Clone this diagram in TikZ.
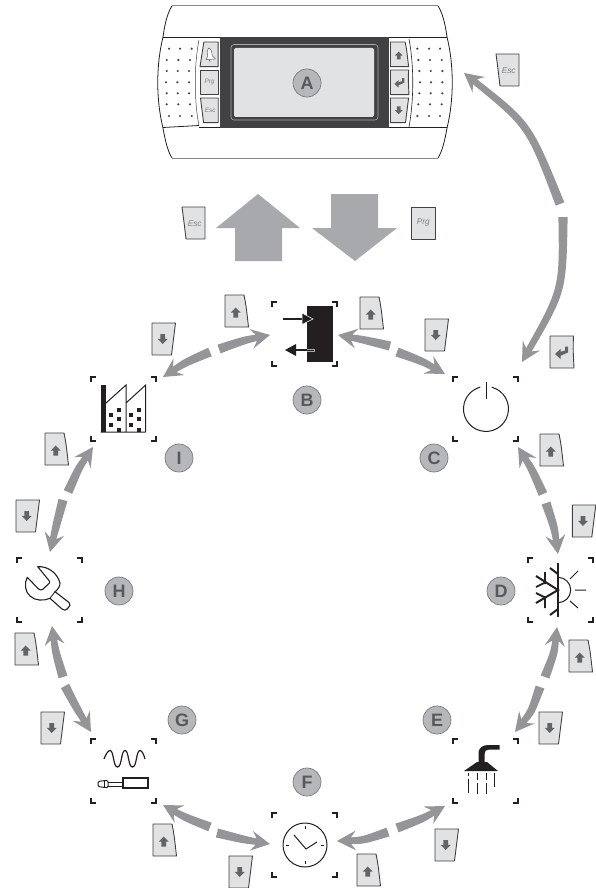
\documentclass[tikz,border=0pt]{standalone}
\usepackage{fontspec}
\setmainfont{Liberation Sans}
\usetikzlibrary{calc}
\definecolor{arrowgray}{HTML}{939598}
\definecolor{biggray}{HTML}{A7A9AC}
\definecolor{keyfill}{HTML}{E1E2E3}
\definecolor{keyline}{HTML}{414042}
\definecolor{glyph}{HTML}{636466}
\definecolor{keytext}{HTML}{808285}
\definecolor{labelfill}{HTML}{B5B7BA}
\definecolor{labeltext}{HTML}{58595B}
\definecolor{ink}{HTML}{231F20}
\tikzset{
  keyshape/.style={draw=keyline,fill=keyfill,line width=.9pt,line join=round},
  keyglyph/.style={fill=glyph,draw=none},
  keylabel/.style={text=keytext,inner sep=0pt,font=\fontsize{8.3}{9}\selectfont\itshape,transform shape},
  letter/.style={circle,draw=labeltext!80,fill=labelfill,line width=.7pt,minimum size=28pt,inner sep=0pt,text=labeltext,font=\fontsize{18}{18}\selectfont\bfseries},
  thinicon/.style={draw=ink,line width=1pt},
  corner/.style={draw=ink,line width=1.2pt},
  keyup/.pic={
    \draw[keyshape] (0,0) -- (19,0) .. controls (21,10) .. (23.5,32) -- (0,32) -- cycle;
    \fill[keyglyph] (10.7,12.5) -- (15.7,17.7) -- (13,17.7) -- (13,22.5) -- (8.4,22.5) -- (8.4,17.7) -- (5.7,17.7) -- cycle;
  },
  keydown/.pic={
    \draw[keyshape] (0,0) -- (23.5,0) .. controls (22,12) .. (19.5,32) -- (0,32) -- cycle;
    \fill[keyglyph] (10.7,21) -- (15.7,15.8) -- (13,15.8) -- (13,11) -- (8.4,11) -- (8.4,15.8) -- (5.7,15.8) -- cycle;
  },
  keyenter/.pic={
    \draw[keyshape] (0,0) -- (23.5,0) .. controls (23,12) .. (24,32) -- (0,32) -- cycle;
    \fill[keyglyph] (5,18) -- (10.5,13) -- (10.5,15.8) -- (15,14.5) -- (15,10.5) -- (18,10.5) -- (18,16.5) -- (10.5,19.8) -- (10.5,23) -- cycle;
  },
  keyesc/.pic={
    \draw[keyshape] (0,0) -- (23,0) -- (23,32) -- (4,32) .. controls (2,15) .. cycle;
    \node[keylabel] (-t) at (12.7,16.5) {Esc};
  },
  keyprg/.pic={
    \draw[keyshape] (0,0) -- (24,0) -- (24,32) -- (0,32) -- cycle;
    \node[keylabel] (-t) at (12.3,15.5) {Prg};
  },
  keybell/.pic={
    \draw[keyshape] (5,0) -- (23.5,0) -- (23.5,32) -- (0,32) -- cycle;
    \draw[draw=glyph,fill=white,line width=.5pt,line join=round] (11,8) .. controls (15,8) and (15,13) .. (16,18) -- (20,22) -- (8,23) -- (10,18) .. controls (9,13) .. cycle;
    \draw[draw=glyph,line width=.5pt] (12,23) -- (13,26);
  }
}
\newcommand\corners[2]{% top-left corner of a 65x64 frame
  \begin{scope}[shift={(#1,#2)}]
    \draw[corner] (0,5) -- (0,0) -- (5,0);
    \draw[corner] (60,0) -- (65,0) -- (65,5);
    \draw[corner] (0,59) -- (0,64) -- (5,64);
    \draw[corner] (60,64) -- (65,64) -- (65,59);
  \end{scope}}
\newcommand\cycshape[1]{%
  \coordinate (#1n) at ($(#1p)!14pt!(#1c)$);
  \coordinate (#1w) at ($(#1p)!19pt!(#1c)$);
  \fill[arrowgray]
    ($(#1t)!4.6pt!90:(#1c)$) .. controls ($(#1c)!3.9pt!90:(#1p)$) .. ($(#1n)!3.2pt!-90:(#1c)$)
    -- ($(#1w)!10pt!-90:(#1c)$) -- (#1p) -- ($(#1w)!10pt!90:(#1c)$)
    -- ($(#1n)!3.2pt!90:(#1c)$) .. controls ($(#1c)!3.9pt!-90:(#1p)$) .. ($(#1t)!4.6pt!-90:(#1c)$) -- cycle;}
\newcommand\cyc[3]{% name, tail, tip : on the large ring
  \coordinate (#1t) at (#2);
  \coordinate (#1p) at (#3);
  \coordinate (#1c) at ($(ring)!257pt!($(#1t)!.5!(#1p)$)$);
  \cycshape{#1}}
\newcommand\cycfree[4]{% name, tail, control, tip
  \coordinate (#1t) at (#2);
  \coordinate (#1c) at (#3);
  \coordinate (#1p) at (#4);
  \cycshape{#1}}
\begin{document}
\begin{tikzpicture}[x=1pt,y=-1pt]
\useasboundingbox (0,0) rectangle (596,888);
\coordinate (ring) at (305,590);
% --- device body
\draw[draw=ink,line width=.8pt] (163,37) .. controls (165,22) and (168,12) .. (172,6);
\draw[draw=ink,line width=.8pt] (447,37) .. controls (445,22) and (442,12) .. (438,6);
\draw[draw=biggray!80!black,line width=1.4pt] (172,5.5) -- (438,5.5);
\draw[draw=ink,line width=.8pt] (163,37) .. controls (156,65) and (156,100) .. (163,128) .. controls (165,140) and (168,152) .. (172,158);
\draw[draw=ink,line width=.8pt] (447,37) .. controls (454,65) and (454,100) .. (447,128) .. controls (445,140) and (442,152) .. (438,158);
\draw[draw=biggray!80!black,line width=1.4pt] (172,158.5) -- (438,158.5);
\draw[draw=ink,line width=.8pt] (163,37.5) -- (220,37.5) (389,37.5) -- (447,37.5);
\draw[draw=ink,line width=.8pt] (163,127.5) -- (199,125.5) (199,127.5) -- (220,127.5) (389,127.5) -- (447,127.5);
\draw[draw=keyline,line width=.5pt] (199,40) .. controls (194,65) and (194,100) .. (199,126);
\draw[draw=ink,line width=.6pt] (409,39) .. controls (414,65) and (414,100) .. (409,127);
\fill[keyline] (220,37) rectangle (389,128);
\draw[draw=biggray,line width=.6pt,rounded corners=3pt] (231,44.5) rectangle (378,120);
\fill[keyfill,rounded corners=2pt] (234,48) rectangle (374,117);
\foreach \yy/\a/\b/\c/\d/\e/\f in {48.7/169/180/191.7/417.3/429/440,60/166.7/178.3/190/418.3/430/441.7,71/166.7/177.7/189/419.3/430.7/442.3,82.3/166/177.3/189/420/431/442.3,93.3/166.7/177.7/189/419.3/430.7/442.3,104.3/166.7/178.3/190/418.3/430/441.7,116/169/180/191.7/417.3/429/440}{
  \foreach \xx in {\a,\b,\c,\d,\e,\f}{\fill[keyline] (\xx,\yy) circle (1.2pt);}
}
\pic[scale=.77] (bell) at (200,42) {keybell};
\pic[scale=.77] (dprg) at (200,70) {keyprg};
\pic[scale=.77] (desc) at (200.5,98) {keyesc};
\pic[scale=.77] (dup) at (390.5,42) {keyup};
\pic[scale=.77] (dent) at (390.5,70) {keyenter};
\pic[scale=.77] (ddn) at (390.5,98) {keydown};
% --- big arrows
\fill[biggray] (258,194) -- (300,228) -- (282,228) -- (282,261) -- (235,261) -- (235,228) -- (216,228) -- cycle;
\fill[biggray] (355,261) -- (397,228) -- (378,228) -- (378,194) -- (331,194) -- (331,228) -- (312,228) -- cycle;
% --- keys
\pic (k1) at (496,54) {keyesc};
\pic (k2) at (182,207) {keyesc};
\pic (k3) at (411,207) {keyprg};
\pic (k4) at (225,295) {keyup};
\pic (k5) at (360,297) {keyup};
\pic (k6) at (152,323) {keydown};
\pic (k7) at (425,319) {keydown};
\pic (k8) at (550,336) {keyenter};
\pic (k9) at (540,434) {keyup};
\pic (k10) at (572.3,505) {keydown};
\pic (k11) at (569,640) {keyup};
\pic (k12) at (539,712) {keydown};
\pic (k13) at (435,829) {keydown};
\pic (k14) at (357,854) {keyup};
\pic (k15) at (229,856) {keydown};
\pic (k16) at (153,824) {keyup};
\pic (k17) at (41,712) {keydown};
\pic (k18) at (15,633) {keyup};
\pic (k19) at (16,500) {keydown};
\pic (k20) at (45,433) {keyup};
% --- cycle arrows
\cycfree{esctop}{560,204}{529,125}{464,73}
\cycfree{entr}{563,217}{563,290}{522,362}
\cyc{ba}{219,349}{270,335}
\cyc{bb}{210,352}{163,377}
\cyc{bc}{390,346}{338,335}
\cyc{bd}{397,352}{445,374}
\cyc{ca}{543,494}{518,447}
\cyc{cb}{546,503}{558,554}
\cyc{da}{545,677}{557,627}
\cyc{db}{540,687}{515,732}
\cyc{ea}{397,828}{445,806}
\cyc{eb}{388,832}{337,841}
\cyc{fa}{217,833}{270,844}
\cyc{fb}{210,827}{163,805}
\cyc{ga}{65,686}{91,732}
\cyc{gb}{63,677}{52,626}
\cyc{ha}{63,500}{50,552}
\cyc{hb}{68,492}{93,447}
% --- corner frames
\corners{272}{302}\corners{453}{377}\corners{528}{558}\corners{453}{739}
\corners{272}{813}\corners{91}{739}\corners{17}{558}\corners{91}{377}
% --- icon B
\fill[ink] (307,306) rectangle (333,362);
\draw[draw=ink,line width=2pt] (283,319) -- (303,319);
\fill[ink,draw=white,line width=.5pt] (302,313) -- (313,319) -- (302,324.5) -- cycle;
\draw[draw=ink,line width=2.4pt] (296,350) -- (307,350);
\draw[draw=biggray,line width=.6pt] (307,348.8) -- (314.5,348.8) -- (314.5,351.2) -- (307,351.2);
\fill[ink] (285,350) -- (296,344) -- (296,356) -- cycle;
% --- icon C
\draw[thinicon] (491.8,387.2) arc[start angle=-75,end angle=255,radius=22.5];
\draw[thinicon] (486,382) -- (486,399);
% --- icon D
\draw[draw=ink,line width=2pt] (558,563) -- (558,617);
\draw[draw=ink,line width=2pt] (536,576) -- (558,590) -- (536,603);
\draw[draw=ink,line width=2pt] (550,568) -- (558,574) (550,615) -- (558,609);
\draw[draw=ink,line width=1.8pt] (545,572) -- (545,584) (536,587) -- (546,582);
\draw[draw=ink,line width=1.8pt] (545,608) -- (545,596) (536,593) -- (546,598);
\draw[thinicon] (558,577.3) arc[start angle=-90,end angle=90,radius=12.7];
\draw[thinicon] (570,579) -- (578,571) (575,590) -- (586,590) (570,601) -- (578,608);
% --- icon E
\fill[ink] (464,771) -- (498,771) -- (487,762) -- (477,762) -- cycle;
\fill[ink] (478.5,763) -- (478.5,754) .. controls (478.5,747) and (483,745) .. (489,745) -- (499.5,745) -- (499.5,749.5) -- (489,749.5) .. controls (486,749.5) and (484.5,751) .. (484.5,754) -- (484.5,763) -- cycle;
\draw[draw=ink,line width=1pt] (468,773) -- (468,776) (468,778.5) -- (468,793);
\draw[draw=ink,line width=1pt] (477,773) -- (477,780) (477,783) -- (477,794);
\draw[draw=ink,line width=1pt] (486,773) -- (486,780) (486,783) -- (486,794);
\draw[draw=ink,line width=1pt] (494,773) -- (494,787);
% --- icon F
\draw[thinicon] (305,845) circle (22);
\draw[thinicon] (305,826) -- (305,829) (305,861) -- (305,864) (286,845) -- (289,845) (321,845) -- (324,845);
\draw[thinicon] (294,835) -- (306,849) -- (317,842);
% --- icon G
\draw[draw=ink,line width=1.2pt] (104,759) .. controls (106,754) and (108,750.5) .. (110,750.5) .. controls (114,750.5) and (113,767) .. (117.5,767) .. controls (122,767) and (121,750.5) .. (125,750.5) .. controls (129,750.5) and (128,767) .. (132.5,767) .. controls (137,767) and (136,750.5) .. (140,750.5) .. controls (142,750.5) and (144,755) .. (145,759);
\draw[draw=ink,line width=1.2pt] (123,778) rectangle (148,788);
\draw[draw=ink,line width=.9pt] (108,782) -- (123,782) (108,786) -- (123,786);
\draw[draw=ink,line width=1pt,rounded corners=1.2pt] (105,780.5) -- (98,781.5) -- (98,786.5) -- (105,787.5) -- (108,787.5) -- (108,780.5) -- cycle;
\draw[draw=ink,line width=.8pt] (104.5,780.5) -- (104.5,787.5);
% --- icon H
\draw[draw=ink,line width=1.1pt,line join=round] (37.7,566.7) .. controls (47,566) and (57,572) .. (60,583) .. controls (60.5,585) and (58,590) .. (55,591.7) -- (69,602.5) .. controls (71,604.5) and (70,606) .. (68,608) .. controls (66,610.5) and (64,611) .. (62,609) -- (50,598.3) .. controls (44,601) and (35,601) .. (30,596) .. controls (25,592) and (24,583) .. (27.3,577.3) -- (38,588.5) .. controls (39.5,590) and (41,590.5) .. (42.5,589.5) -- (49,583.5) .. controls (50,582.5) and (50,581.5) .. (49,580.5) -- cycle;
\draw[draw=ink,line width=.9pt] (55,591.7) -- (50,598.3);
% --- icon I
\fill[ink] (100.7,385) rectangle (106,432);
\draw[draw=ink,line width=1pt,line join=miter] (106,403) -- (126,385) -- (126,432) (126,403) -- (145.7,385) -- (145.7,432) (100.7,432) -- (145.7,432);
\foreach \xx/\yy in {119/410,111/415.3,119/419.3,111/424.7,119/430,139/410,131/415.3,139/419.3,131/424.7,139/430}{
  \fill[ink] ($(\xx,\yy)+(-2,-2)$) rectangle ($(\xx,\yy)+(2,2)$);
}
% --- letters
\node[letter] (la) at (307,83) {A};
\node[letter] (lb) at (307,400) {B};
\node[letter] (lc) at (434,458) {C};
\node[letter] (ld) at (501,591) {D};
\node[letter] (le) at (437,720) {E};
\node[letter] (lf) at (307,782) {F};
\node[letter] (lg) at (182,720) {G};
\node[letter] (lh) at (119,591) {H};
\node[letter] (li) at (179,458) {I};
\end{tikzpicture}
\end{document}
